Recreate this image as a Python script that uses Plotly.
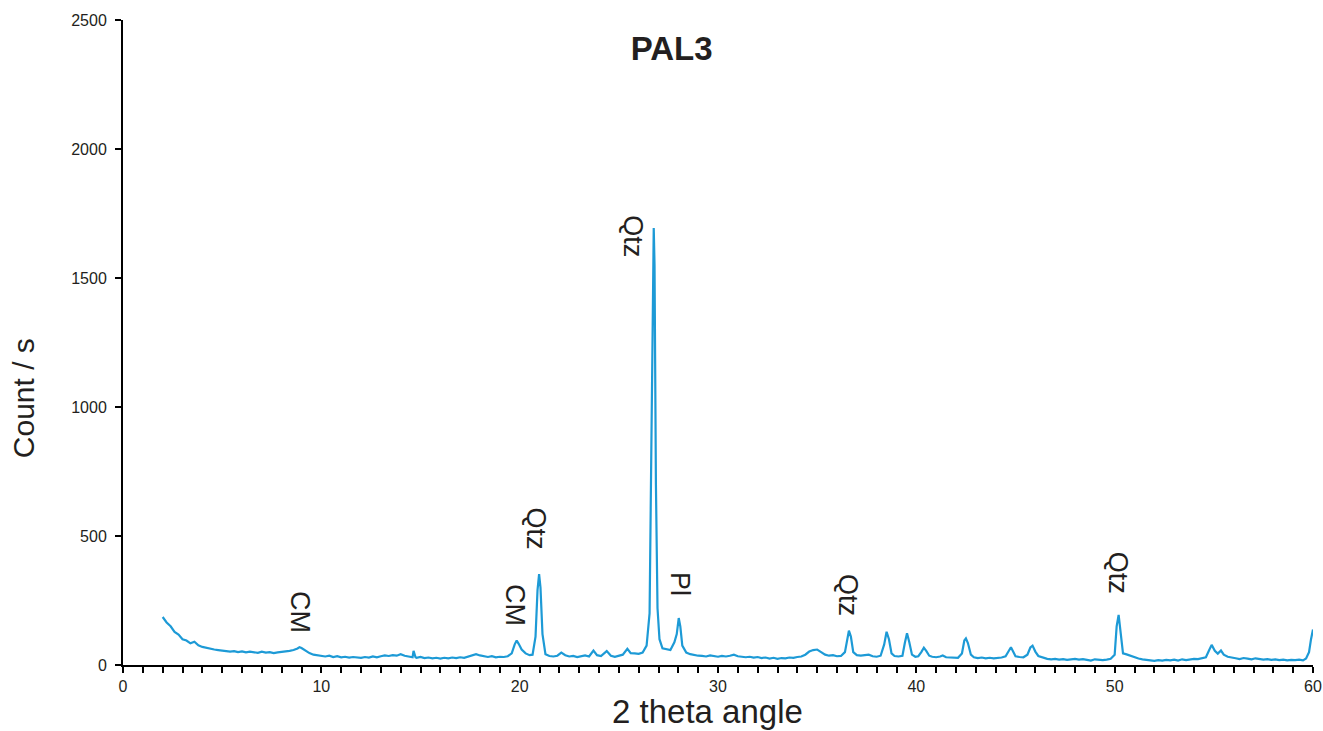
import plotly.graph_objects as go

two_theta = [
    2.0, 2.2, 2.4, 2.6, 2.8, 3.0, 3.2, 3.4, 3.6, 3.8, 4.0, 4.2, 4.4, 4.6, 4.8,
    5.0, 5.2, 5.4, 5.6, 5.8, 6.0, 6.2, 6.4, 6.6, 6.8, 7.0, 7.2, 7.4, 7.6, 7.8,
    8.0, 8.2, 8.4, 8.6, 8.8, 8.9, 9.0, 9.2, 9.4, 9.6, 9.8, 10.0,
    10.2, 10.4, 10.6, 10.8, 11.0, 11.2, 11.4, 11.6, 11.8, 12.0, 12.2, 12.4, 12.6, 12.8,
    13.0, 13.2, 13.4, 13.6, 13.8, 14.0, 14.2, 14.4, 14.6, 14.65, 14.75, 14.8,
    15.0, 15.2, 15.4, 15.6, 15.8, 16.0, 16.2, 16.4, 16.6, 16.8, 17.0, 17.2, 17.4, 17.6, 17.8,
    18.0, 18.2, 18.4, 18.6, 18.8, 19.0, 19.2, 19.4, 19.6, 19.75, 19.85, 19.95,
    20.1, 20.3, 20.5, 20.65, 20.8, 20.9, 20.98, 21.05, 21.15, 21.3, 21.5, 21.7, 21.9,
    22.1, 22.3, 22.5, 22.7, 22.9, 23.1, 23.3, 23.5, 23.72, 23.9, 24.1, 24.39, 24.6, 24.8,
    25.0, 25.2, 25.43, 25.6, 25.8, 26.0, 26.2, 26.4, 26.55, 26.65, 26.72, 26.76, 26.8,
    26.87, 26.95, 27.05, 27.2, 27.4, 27.6, 27.8, 27.92, 28.02, 28.1, 28.2, 28.4, 28.6, 28.8,
    29.0, 29.2, 29.4, 29.6, 29.8, 30.0, 30.2, 30.4, 30.6, 30.8, 31.0, 31.2, 31.4, 31.6, 31.8,
    32.0, 32.2, 32.4, 32.6, 32.8, 33.0, 33.2, 33.4, 33.6, 33.8, 34.0, 34.2, 34.4, 34.6, 34.8,
    35.0, 35.2, 35.4, 35.6, 35.8, 36.0, 36.2, 36.4, 36.52, 36.6, 36.7, 36.82,
    37.0, 37.2, 37.4, 37.6, 37.8, 38.0, 38.2, 38.38, 38.5, 38.62, 38.75, 38.9,
    39.1, 39.3, 39.42, 39.53, 39.64, 39.78, 39.95, 40.1, 40.25, 40.38, 40.5, 40.65, 40.8,
    41.0, 41.2, 41.33, 41.5, 41.7, 41.9, 42.1, 42.3, 42.42, 42.5, 42.6, 42.75, 42.9,
    43.1, 43.3, 43.5, 43.7, 43.9, 44.1, 44.3, 44.5, 44.65, 44.77, 44.88,
    45.0, 45.2, 45.4, 45.6, 45.75, 45.86, 46.0, 46.15, 46.4, 46.6, 46.8,
    47.0, 47.2, 47.4, 47.6, 47.8, 48.0, 48.2, 48.4, 48.6, 48.8, 49.0, 49.2, 49.4, 49.6, 49.8,
    50.0, 50.1, 50.2, 50.3, 50.42, 50.6, 50.8, 51.0, 51.2, 51.4, 51.6, 51.8,
    52.0, 52.2, 52.4, 52.6, 52.8, 53.0, 53.2, 53.4, 53.6, 53.8, 54.0, 54.2, 54.4, 54.6, 54.75, 54.89,
    55.05, 55.2, 55.36, 55.5, 55.7, 55.9, 56.1, 56.3, 56.5, 56.7, 56.9,
    57.1, 57.3, 57.5, 57.7, 57.9, 58.1, 58.3, 58.5, 58.7, 58.9, 59.1, 59.3, 59.5, 59.65, 59.8, 59.9, 60.0,
]

counts = [
    186, 165, 150, 128, 118, 100, 95, 84, 90, 76, 70, 66, 63, 60, 58,
    56, 55, 52, 54, 50, 53, 49, 52, 50, 47, 52, 48, 50, 46, 49,
    50, 53, 55, 58, 64, 69, 66, 55, 46, 40, 38, 35,
    33, 36, 31, 34, 30, 32, 29, 31, 30, 28, 31, 29, 33, 30,
    34, 37, 35, 38, 36, 42, 36, 33, 30, 55, 30, 28,
    31, 27, 29, 26, 28, 25, 28, 26, 29, 27, 30, 28, 32, 35, 42,
    37, 33, 31, 34, 30, 32, 31, 34, 45, 80, 95, 82,
    60, 45, 38, 40, 110, 290, 352, 300, 120, 42, 35, 33, 36,
    48, 38, 33, 35, 31, 34, 37, 33, 56, 38, 35, 54, 36, 32,
    35, 40, 63, 46, 45, 43, 48, 75, 200, 900, 1600, 1694, 1550,
    700, 220, 100, 65, 60, 58, 88, 120, 182, 150, 75, 48, 42, 38,
    36, 35, 33, 37, 34, 32, 35, 33, 36, 40, 34, 33, 30, 32, 29,
    31, 27, 29, 25, 28, 24, 27, 26, 29, 28, 31, 33, 40, 52, 58,
    60, 50, 40, 36, 38, 34, 35, 50, 110, 133, 110, 50,
    38, 36, 38, 40, 34, 32, 36, 80, 129, 100, 45, 35,
    33, 36, 85, 123, 90, 40, 32, 34, 50, 67, 55, 36, 32,
    30, 33, 37, 30, 29, 30, 28, 45, 95, 103, 85, 40, 30,
    27, 29, 26, 28, 26, 27, 29, 34, 55, 69, 52,
    34, 31, 30, 40, 68, 75, 52, 35, 28, 24, 22,
    24, 21, 23, 20, 22, 24, 21, 23, 20, 17, 22, 20, 19, 21, 24,
    40, 150, 194, 130, 45, 41, 35, 28, 25, 22, 19, 18,
    16, 19, 17, 20, 18, 21, 17, 22, 19, 22, 24, 23, 27, 30, 55, 78,
    55, 44, 56, 40, 32, 28, 26, 23, 27, 25, 22,
    26, 24, 21, 23, 20, 22, 19, 21, 18, 20, 19, 21, 18, 25, 50, 100, 138,
]

label_texts = ["CM", "CM", "Qtz", "Qtz", "Pl", "Qtz", "Qtz"]
label_x = [8.93, 19.77, 20.8, 25.7, 28.08, 36.56, 50.17]
label_y = [205, 232, 531, 1663, 314, 271, 357]

x_ticks = [0, 10, 20, 30, 40, 50, 60]
y_ticks = [0, 500, 1000, 1500, 2000, 2500]

LINE_COLOR = "#1d9ad6"
TEXT_COLOR = "#231f20"
FONT = "Liberation Sans, Arial, sans-serif"

fig = go.Figure()
fig.add_trace(go.Scatter(
    x=two_theta, y=counts, mode="lines",
    line=dict(color=LINE_COLOR, width=2.2),
    hoverinfo="x+y", showlegend=False,
))

for t, lx, ly in zip(label_texts, label_x, label_y):
    fig.add_annotation(
        x=lx, y=ly, text=t, textangle=90, showarrow=False,
        font=dict(family=FONT, size=27, color=TEXT_COLOR),
        xanchor="center", yanchor="middle",
    )

# axis titles (placed as in the reference)
fig.add_annotation(
    x=0.491, y=-0.072, xref="paper", yref="paper", text="2 theta angle",
    showarrow=False, xanchor="center", yanchor="middle", borderpad=0,
    font=dict(family=FONT, size=33, color=TEXT_COLOR),
)
fig.add_annotation(
    x=-0.083, y=0.414, xref="paper", yref="paper", text="Count / s",
    textangle=-90, showarrow=False, xanchor="center", yanchor="middle", borderpad=0,
    font=dict(family=FONT, size=30, color=TEXT_COLOR),
)

fig.update_layout(
    width=1323, height=731,
    margin=dict(l=123, r=10, t=20, b=66),
    paper_bgcolor="white", plot_bgcolor="white",
    font=dict(family=FONT, color=TEXT_COLOR),
    title=dict(
        text="<b>PAL3</b>", x=0.461, xref="paper", y=0.934, yref="container",
        xanchor="center", yanchor="middle",
        font=dict(family=FONT, size=33, color=TEXT_COLOR),
    ),
    xaxis=dict(
        range=[0, 60], tickvals=x_ticks, ticks="outside", ticklen=6, tickwidth=1.5,
        tickcolor="black", showline=True, linecolor="black", linewidth=2,
        showgrid=False, zeroline=False, ticklabeloverflow="allow",
        tickfont=dict(family=FONT, size=16, color=TEXT_COLOR),
        minor=dict(dtick=1, tick0=0, ticks="outside", ticklen=6, tickwidth=1.5,
                   tickcolor="black", showgrid=False),
        automargin=False,
    ),
    yaxis=dict(
        range=[0, 2500], tickvals=y_ticks, ticks="outside", ticklen=6, tickwidth=1.5,
        tickcolor="black", showline=True, linecolor="black", linewidth=2,
        showgrid=False, zeroline=False, ticklabelstandoff=5,
        tickfont=dict(family=FONT, size=16, color=TEXT_COLOR),
        automargin=False,
    ),
)

fig.write_html(
    "out.html",
    config={"displayModeBar": False},
    post_script="document.body.style.margin='0px';document.body.style.overflow='hidden';",
)
